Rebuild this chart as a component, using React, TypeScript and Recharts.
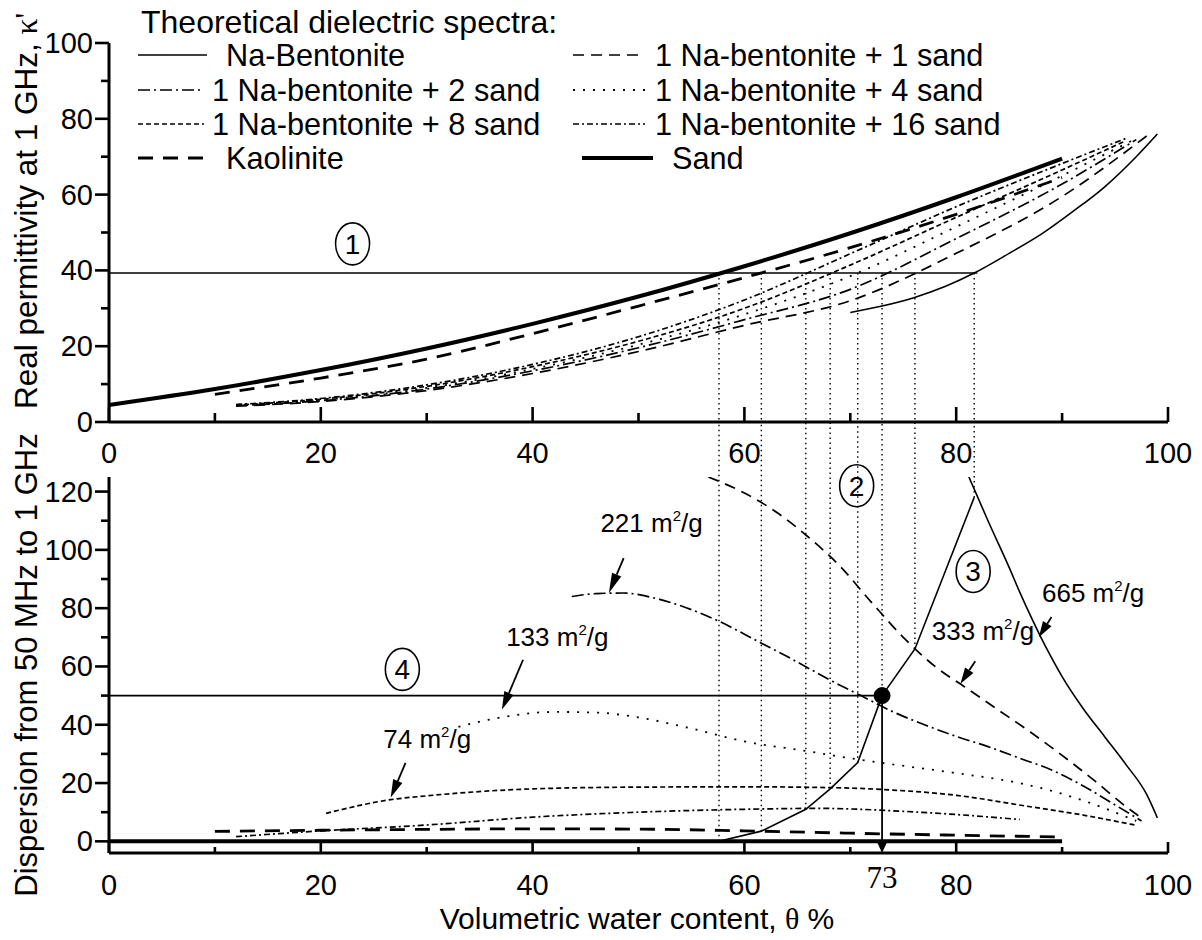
import React from 'react';
import { LineChart, Line, XAxis, YAxis, ReferenceLine, ReferenceDot } from 'recharts';

type Pt = [number, number];

// ---------- Upper panel: real permittivity at 1 GHz (κ') vs θ ----------
const sandKappa: Pt[] = [[0, 4.5], [10, 8.7], [20, 13.7], [30, 19.4], [40, 25.9], [50, 33.1], [60, 41.1], [70, 49.8], [80, 59.3], [90, 69.5]];
const kaoliniteKappa: Pt[] = [[10, 7.3], [20, 11.6], [30, 16.6], [40, 23.3], [50, 30.6], [60, 38.1], [70, 46.0], [80, 54.8], [90, 64.5]];
const bent16Kappa: Pt[] = [[12, 4.6], [20, 6.2], [30, 9.8], [40, 15.2], [50, 22.5], [60, 32.2], [70, 44.4], [80, 56.8], [90, 68.2], [96, 74.8]];
const bent8Kappa: Pt[] = [[12, 4.5], [20, 6.0], [30, 9.4], [40, 14.6], [50, 21.3], [60, 30.0], [70, 41.4], [80, 54.0], [90, 66.5], [96, 74.2]];
const bent4Kappa: Pt[] = [[12, 4.4], [20, 5.8], [30, 9.0], [40, 14.0], [50, 20.4], [60, 28.4], [70, 38.5], [80, 51.5], [90, 65.0], [97, 74.8]];
const bent2Kappa: Pt[] = [[12, 4.3], [20, 5.6], [30, 8.7], [40, 13.5], [50, 19.6], [60, 27.0], [70, 35.0], [80, 48.4], [90, 62.8], [97, 74.5]];
const bent1Kappa: Pt[] = [[12, 4.2], [20, 5.4], [30, 8.3], [40, 12.8], [50, 18.6], [60, 25.5], [70, 32.0], [80, 44.5], [90, 59.5], [98, 75.5]];
const naBentKappa: Pt[] = [[70, 28.9], [73, 30.6], [76, 32.8], [79, 35.8], [81.7, 39.3], [85, 44.5], [88, 49.5], [91, 55.5], [94, 62], [97, 70], [99, 76]];

// ---------- Lower panel: dispersion from 50 MHz to 1 GHz vs θ ----------
const sandDisp: Pt[] = [[0, 0], [90, 0]];
const kaoliniteDisp: Pt[] = [[10, 3.4], [20, 3.8], [30, 4.1], [40, 4.3], [50, 4.2], [60, 3.6], [70, 2.8], [80, 2.1], [90, 1.5]];
const bent16Disp: Pt[] = [[12, 1.6], [20, 3.6], [30, 5.6], [40, 8.3], [50, 10.0], [60, 11.0], [67, 11.3], [75, 10.3], [80, 9.2], [86, 7.5]];
const bent8Disp: Pt[] = [[20.5, 9.6], [26.6, 14.3], [30, 15.6], [40, 18.0], [50, 18.6], [60, 18.7], [67, 18.5], [74, 17.6], [80, 15.8], [86.6, 12.1], [92, 9], [97, 5.5]];
const bent4Disp: Pt[] = [[33, 39.3], [37, 42.5], [42, 44.4], [46, 44.2], [50, 42.5], [55, 38.7], [60, 34.3], [66, 30.9], [70.7, 28.1], [74, 26.4], [80, 23.4], [86.6, 19.5], [92, 14], [97, 7]];
const bent2Disp: Pt[] = [[43.7, 84], [46, 85], [48.5, 85.2], [52, 83], [55, 79.5], [57.6, 75.5], [61.6, 68], [64, 63.5], [66, 59.5], [68, 55.5], [71, 50], [74, 44.5], [77, 40], [80, 36], [83, 32.5], [86, 28.5], [89, 24.5], [92, 19], [95, 12.5], [97.5, 7]];
const bent1Disp: Pt[] = [[56.6, 125], [60, 119.5], [63, 113], [66, 104.5], [69, 94.5], [72, 82], [75, 70], [78, 60], [81, 52.5], [84, 45], [87, 37.5], [90, 29.5], [93, 21], [96, 12], [97.5, 8]];
const naBentDisp: Pt[] = [[81.2, 125], [83, 110], [85, 94], [86, 85.5], [87, 77.5], [88, 70], [89, 63], [90, 56.5], [92, 45.5], [94, 36], [96, 26.5], [98, 16], [99, 8]];

// θ where each spectrum reaches κ' = kappaLevel, and the dispersion read there
const crossTheta = [57.6, 61.6, 65.8, 68.1, 70.7, 73, 76.1, 81.7];
const crossDispersion = [0, 3.5, 11, 18, 27, 50, 66, 118];
const kappaLevel = 39.3;
const kappaLevelEnd = 82;
const dispersionLevel = 50;
const pickedTheta = 73;

const xTicks = [0, 10, 20, 30, 40, 50, 60, 70, 80, 90, 100];
const kappaTicks = [0, 10, 20, 30, 40, 50, 60, 70, 80, 90, 100];
const dispersionTicks = [0, 10, 20, 30, 40, 50, 60, 70, 80, 90, 100, 110, 120];

// ---------- layout ----------
const W = 1202;
const H = 940;
const PLOT_L = 109;
const PLOT_R = 1168;
const UP_TOP = 43;
const UP_BOTTOM = 422;
const UP_H = 480;
const LOW_Y0 = 400;
const LOW_H = 540;
const LOW_TOP = 477;
const LOW_BOTTOM = 853;
const LOW_DOMAIN: [number, number] = [-4, 125];
const X_H = 50;
const Y_W = 60;
const FONT = "'Liberation Sans', Arial, Helvetica, sans-serif";
const SERIF = "'Liberation Serif', 'Times New Roman', serif";

// upper panel's zero line expressed in lower-panel units (for the connector lines)
const upperBaseInLower =
  LOW_DOMAIN[0] + ((LOW_BOTTOM - UP_BOTTOM) / (LOW_BOTTOM - LOW_TOP)) * (LOW_DOMAIN[1] - LOW_DOMAIN[0]);

const rows = (pts: Pt[]) => pts.map(([t, v]) => ({ t, v }));

type LineStyle = { stroke: string; strokeWidth: number; strokeDasharray?: string };
const S: Record<string, LineStyle> = {
  naBent: { stroke: '#000', strokeWidth: 1.6 },
  b1: { stroke: '#000', strokeWidth: 1.7, strokeDasharray: '11 7' },
  b2: { stroke: '#000', strokeWidth: 1.7, strokeDasharray: '12 4 2 4' },
  b4: { stroke: '#000', strokeWidth: 1.8, strokeDasharray: '2 8' },
  b8: { stroke: '#000', strokeWidth: 1.7, strokeDasharray: '5 3' },
  b16: { stroke: '#000', strokeWidth: 1.7, strokeDasharray: '6 3 2 3' },
  kaolinite: { stroke: '#000', strokeWidth: 2.8, strokeDasharray: '15 10' },
  sand: { stroke: '#000', strokeWidth: 4 },
};

const upperSeries: { id: string; pts: Pt[]; style: LineStyle }[] = [
  { id: 'sand', pts: sandKappa, style: S.sand },
  { id: 'kaolinite', pts: kaoliniteKappa, style: S.kaolinite },
  { id: 'b16', pts: bent16Kappa, style: S.b16 },
  { id: 'b8', pts: bent8Kappa, style: S.b8 },
  { id: 'b4', pts: bent4Kappa, style: S.b4 },
  { id: 'b2', pts: bent2Kappa, style: S.b2 },
  { id: 'b1', pts: bent1Kappa, style: S.b1 },
  { id: 'naBent', pts: naBentKappa, style: S.naBent },
];

const lowerSeries: { id: string; pts: Pt[]; style: LineStyle }[] = [
  { id: 'sand', pts: sandDisp, style: S.sand },
  { id: 'kaolinite', pts: kaoliniteDisp, style: S.kaolinite },
  { id: 'b16', pts: bent16Disp, style: S.b16 },
  { id: 'b8', pts: bent8Disp, style: S.b8 },
  { id: 'b4', pts: bent4Disp, style: S.b4 },
  { id: 'b2', pts: bent2Disp, style: S.b2 },
  { id: 'b1', pts: bent1Disp, style: S.b1 },
  { id: 'naBent', pts: naBentDisp, style: S.naBent },
];

const legendRows: { label: string; style: LineStyle }[][] = [
  [{ label: 'Na-Bentonite', style: S.naBent }, { label: '1 Na-bentonite + 1 sand', style: S.b1 }],
  [{ label: '1 Na-bentonite + 2 sand', style: S.b2 }, { label: '1 Na-bentonite + 4 sand', style: S.b4 }],
  [{ label: '1 Na-bentonite + 8 sand', style: S.b8 }, { label: '1 Na-bentonite + 16 sand', style: S.b16 }],
  [{ label: 'Kaolinite', style: S.kaolinite }, { label: 'Sand', style: S.sand }],
];

// ---------- axis tick renderers (ticks point into the plot) ----------
const xTick = (labelDy: number, majorLen: number, minorLen: number) => (p: any) => {
  const v = p.payload.value;
  const major = v % 20 === 0;
  return (
    <g>
      <line x1={p.x} y1={p.y} x2={p.x} y2={p.y - (major ? majorLen : minorLen)} stroke="#000" strokeWidth={2.6} />
      {major && (
        <text x={p.x} y={p.y + labelDy} textAnchor="middle" fontSize={29} fill="#000" fontFamily={FONT}>
          {v}
        </text>
      )}
    </g>
  );
};

const yTick = (p: any) => {
  const v = p.payload.value;
  const major = v % 20 === 0;
  return (
    <g>
      <line x1={p.x} y1={p.y} x2={p.x - (major ? 14 : 8)} y2={p.y} stroke="#000" strokeWidth={2.6} />
      {major && (
        <text x={p.x - 16} y={p.y + 10} textAnchor="end" fontSize={29} fill="#000" fontFamily={FONT}>
          {v}
        </text>
      )}
    </g>
  );
};

// ---------- annotation shapes ----------
const circled = (n: string) => (p: any) => (
  <g>
    <ellipse cx={p.cx} cy={p.cy} rx={17} ry={21} fill="none" stroke="#000" strokeWidth={1.6} />
    <text x={p.cx} y={p.cy + 10} textAnchor="middle" fontSize={28} fill="#000" fontFamily={FONT}>
      {n}
    </text>
  </g>
);

const areaLabel = (value: string) => (p: any) => (
  <text x={p.cx} y={p.cy} fontSize={26} fill="#000" fontFamily={FONT}>
    {value} m<tspan dy={-11} fontSize={15}>2</tspan>
    <tspan dy={11}>/g</tspan>
  </text>
);

const arrow = (len: number, half: number, width: number) => (p: any) => {
  const { x1, y1, x2, y2 } = p;
  const a = Math.atan2(y2 - y1, x2 - x1);
  const bx = x2 - len * Math.cos(a);
  const by = y2 - len * Math.sin(a);
  const nx = -Math.sin(a) * half;
  const ny = Math.cos(a) * half;
  return (
    <g>
      <line x1={x1} y1={y1} x2={bx} y2={by} stroke="#000" strokeWidth={width} />
      <polygon points={`${x2},${y2} ${bx + nx},${by + ny} ${bx - nx},${by - ny}`} fill="#000" />
    </g>
  );
};

const pickedArrow = (p: any) => (
  <g>
    {arrow(13, 6, 1.8)(p)}
    <text x={p.x2} y={p.y2 + 35} textAnchor="middle" fontSize={31} fill="#000" fontFamily={SERIF}>
      {pickedTheta}
    </text>
  </g>
);

const axisLine = { stroke: '#000', strokeWidth: 3 };

const LegendSample = ({ x1, x2, y, style }: { x1: number; x2: number; y: number; style: LineStyle }) => (
  <line x1={x1} x2={x2} y1={y} y2={y} {...style} />
);

export default function App() {
  const ROW_Y = [55, 90, 124, 158];
  return (
    <div
      style={{
        position: 'absolute',
        left: 0,
        top: 0,
        width: W,
        height: H,
        background: '#fff',
        fontFamily: FONT,
        overflow: 'hidden',
      }}
    >
      {/* upper panel */}
      <div style={{ position: 'absolute', left: 0, top: 0 }}>
        <LineChart
          width={W}
          height={UP_H}
          margin={{ top: UP_TOP, right: W - PLOT_R, left: PLOT_L - Y_W, bottom: UP_H - UP_BOTTOM - X_H }}
        >
          <XAxis
            dataKey="t"
            type="number"
            domain={[0, 100]}
            ticks={xTicks}
            interval={0}
            tickSize={0}
            tickMargin={0}
            tickLine={false}
            axisLine={axisLine}
            tick={xTick(41, 15, 9)}
            height={X_H}
            allowDataOverflow
          />
          <YAxis
            type="number"
            domain={[0, 100]}
            ticks={kappaTicks}
            interval={0}
            tickSize={0}
            tickMargin={0}
            tickLine={false}
            axisLine={axisLine}
            tick={yTick}
            width={Y_W}
            allowDataOverflow
          />
          <ReferenceLine
            segment={[{ x: 0, y: kappaLevel }, { x: kappaLevelEnd, y: kappaLevel }]}
            stroke="#000"
            strokeWidth={1.6}
          />
          {crossTheta.map((t) => (
            <ReferenceLine
              key={`uc${t}`}
              segment={[{ x: t, y: kappaLevel }, { x: t, y: 0 }]}
              stroke="#000"
              strokeWidth={1.4}
              strokeDasharray="1.5 3.5"
            />
          ))}
          {upperSeries.map((s) => (
            <Line
              key={s.id}
              data={rows(s.pts)}
              dataKey="v"
              type="monotone"
              {...s.style}
              fill="none"
              dot={false}
              activeDot={false}
              isAnimationActive={false}
            />
          ))}
          <ReferenceDot x={23} y={47} shape={circled('1')} ifOverflow="visible" />
        </LineChart>
      </div>

      {/* lower panel */}
      <div style={{ position: 'absolute', left: 0, top: LOW_Y0 }}>
        <LineChart
          width={W}
          height={LOW_H}
          margin={{
            top: LOW_TOP - LOW_Y0,
            right: W - PLOT_R,
            left: PLOT_L - Y_W,
            bottom: LOW_H - (LOW_BOTTOM - LOW_Y0) - X_H,
          }}
        >
          <XAxis
            dataKey="t"
            type="number"
            domain={[0, 100]}
            ticks={xTicks}
            interval={0}
            tickSize={0}
            tickMargin={0}
            tickLine={false}
            axisLine={axisLine}
            tick={xTick(42, 11, 6)}
            height={X_H}
            allowDataOverflow
          />
          <YAxis
            type="number"
            domain={LOW_DOMAIN}
            ticks={dispersionTicks}
            interval={0}
            tickSize={0}
            tickMargin={0}
            tickLine={false}
            axisLine={axisLine}
            tick={yTick}
            width={Y_W}
            allowDataOverflow
          />
          {crossTheta.map((t, i) => (
            <ReferenceLine
              key={`lc${t}`}
              segment={[{ x: t, y: crossDispersion[i] }, { x: t, y: upperBaseInLower }]}
              stroke="#000"
              strokeWidth={1.4}
              strokeDasharray="1.5 3.5"
              ifOverflow="visible"
            />
          ))}
          <ReferenceLine
            segment={[{ x: 0, y: dispersionLevel }, { x: pickedTheta, y: dispersionLevel }]}
            stroke="#000"
            strokeWidth={1.6}
          />
          {lowerSeries.map((s) => (
            <Line
              key={s.id}
              data={rows(s.pts)}
              dataKey="v"
              type="monotone"
              {...s.style}
              fill="none"
              dot={false}
              activeDot={false}
              isAnimationActive={false}
            />
          ))}
          <Line
            data={crossTheta.map((t, i) => ({ t, v: crossDispersion[i] }))}
            dataKey="v"
            type="linear"
            stroke="#000"
            strokeWidth={1.6}
            fill="none"
            dot={false}
            activeDot={false}
            isAnimationActive={false}
          />
          <ReferenceLine
            segment={[{ x: pickedTheta, y: dispersionLevel }, { x: pickedTheta, y: LOW_DOMAIN[0] }]}
            shape={pickedArrow}
            ifOverflow="visible"
          />
          <ReferenceDot x={pickedTheta} y={dispersionLevel} r={8} fill="#000" stroke="#000" ifOverflow="visible" />

          <ReferenceDot x={70.6} y={122} shape={circled('2')} ifOverflow="visible" />
          <ReferenceDot x={81.6} y={92.6} shape={circled('3')} ifOverflow="visible" />
          <ReferenceDot x={27.7} y={59} shape={circled('4')} ifOverflow="visible" />

          <ReferenceDot x={46.4} y={106.3} shape={areaLabel('221')} ifOverflow="visible" />
          <ReferenceLine segment={[{ x: 48.6, y: 97.2 }, { x: 47.2, y: 85.2 }]} shape={arrow(20, 5, 1.8)} ifOverflow="visible" />
          <ReferenceDot x={77.7} y={69.2} shape={areaLabel('333')} ifOverflow="visible" />
          <ReferenceLine segment={[{ x: 81.8, y: 61.8 }, { x: 80.4, y: 54.1 }]} shape={arrow(16, 5, 1.8)} ifOverflow="visible" />
          <ReferenceDot x={37.5} y={67} shape={areaLabel('133')} ifOverflow="visible" />
          <ReferenceLine segment={[{ x: 39.1, y: 62.3 }, { x: 37.1, y: 45.2 }]} shape={arrow(18, 5, 1.8)} ifOverflow="visible" />
          <ReferenceDot x={25.9} y={32} shape={areaLabel('74')} ifOverflow="visible" />
          <ReferenceLine segment={[{ x: 28.0, y: 26.9 }, { x: 26.6, y: 15.0 }]} shape={arrow(18, 5, 1.8)} ifOverflow="visible" />
          <ReferenceDot x={88.1} y={82} shape={areaLabel('665')} ifOverflow="visible" />
          <ReferenceLine segment={[{ x: 89.0, y: 77 }, { x: 87.8, y: 70 }]} shape={arrow(16, 5, 1.8)} ifOverflow="visible" />
        </LineChart>
      </div>

      {/* legend and axis titles */}
      <svg
        width={W}
        height={H}
        style={{ position: 'absolute', left: 0, top: 0, pointerEvents: 'none' }}
        fontFamily={FONT}
      >
        <text x={141} y={33} fontSize={32} fill="#000">
          Theoretical dielectric spectra:
        </text>
        {legendRows.map((row, i) => {
          const y = ROW_Y[i];
          const [l, r] = row;
          const leftShort = l.label.length > 12;
          const rightSand = r.label === 'Sand';
          return (
            <g key={i}>
              <LegendSample x1={138} x2={leftShort ? 204 : 207} y={y} style={l.style} />
              <text x={leftShort ? 212 : 226} y={y + 11} fontSize={30.7} fill="#000">
                {l.label}
              </text>
              <LegendSample x1={rightSand ? 582 : 573} x2={rightSand ? 653 : 645} y={y} style={r.style} />
              <text x={rightSand ? 672 : 655} y={y + 11} fontSize={30.7} fill="#000">
                {r.label}
              </text>
            </g>
          );
        })}
        <text transform="translate(37, 211) rotate(-90)" textAnchor="middle" fontSize={31.5} fill="#000">
          Real permittivity at 1 GHz, <tspan fontFamily={SERIF}>κ'</tspan>
        </text>
        <text transform="translate(37, 665) rotate(-90)" textAnchor="middle" fontSize={31} fill="#000">
          Dispersion from 50 MHz to 1 GHz
        </text>
        <text x={637} y={929} textAnchor="middle" fontSize={30} fill="#000">
          Volumetric water content, <tspan fontFamily={SERIF}>θ</tspan> %
        </text>
      </svg>
    </div>
  );
}
